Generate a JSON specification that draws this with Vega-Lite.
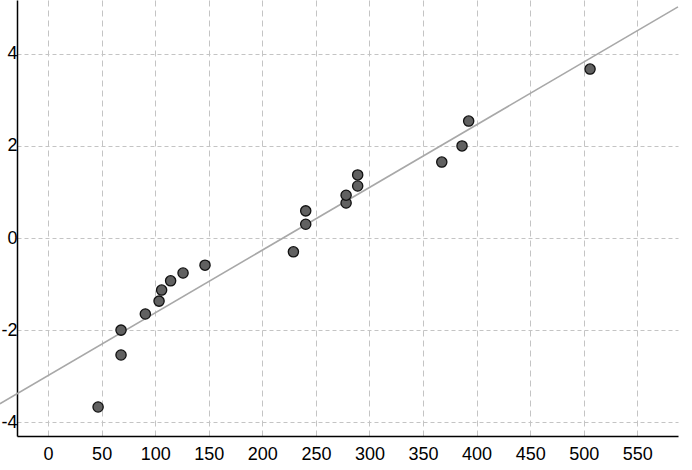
{
  "$schema": "https://vega.github.io/schema/vega-lite/v6.json",
  "width": 661,
  "height": 436,
  "autosize": "none",
  "padding": {"left": 17, "top": 0, "right": 14, "bottom": 34},
  "config": {
    "background": "white",
    "view": {"stroke": null},
    "axis": {
      "labelFont": "Liberation Sans",
      "labelFontSize": 18,
      "labelColor": "black",
      "domainColor": "black",
      "domainWidth": 1.5,
      "ticks": false,
      "gridColor": "#c4c4c4",
      "gridWidth": 1,
      "title": null
    }
  },
  "datasets": {
    "points": [
      {"x": 46.7, "y": -3.67},
      {"x": 68.1, "y": -2.54},
      {"x": 68.1, "y": -2.0},
      {"x": 90.8, "y": -1.65},
      {"x": 103.6, "y": -1.37},
      {"x": 106.0, "y": -1.13},
      {"x": 114.4, "y": -0.93},
      {"x": 126.0, "y": -0.76},
      {"x": 146.5, "y": -0.59},
      {"x": 229.0, "y": -0.30},
      {"x": 240.5, "y": 0.30},
      {"x": 240.5, "y": 0.59},
      {"x": 278.2, "y": 0.76},
      {"x": 278.2, "y": 0.93},
      {"x": 289.0, "y": 1.13},
      {"x": 289.0, "y": 1.37},
      {"x": 367.5, "y": 1.65},
      {"x": 386.4, "y": 2.0},
      {"x": 392.6, "y": 2.54},
      {"x": 505.9, "y": 3.67}
    ],
    "fit": [
      {"x": -45, "y": -3.60},
      {"x": 588, "y": 5.02}
    ]
  },
  "layer": [
    {
      "data": {"name": "fit"},
      "mark": {"type": "line", "color": "#a8a8a8", "strokeWidth": 1.6, "clip": false},
      "encoding": {
        "x": {
          "field": "x", "type": "quantitative",
          "scale": {"domain": [-29, 588], "nice": false, "zero": false},
          "axis": {
            "values": [0, 50, 100, 150, 200, 250, 300, 350, 400, 450, 500, 550],
            "labelPadding": 9,
            "gridDash": [6, 4],
            "labelExpr": "toString(datum.value)"
          }
        },
        "y": {
          "field": "y", "type": "quantitative",
          "scale": {"domain": [-4.3, 5.17], "nice": false, "zero": false},
          "axis": {
            "values": [-4, -2, 0, 2, 4],
            "labelPadding": 0,
            "gridDash": [4, 3],
            "labelExpr": "toString(datum.value)"
          }
        }
      }
    },
    {
      "data": {"name": "points"},
      "mark": {"type": "point", "shape": "circle", "filled": true, "size": 105, "fill": "#616161", "stroke": "#111111", "strokeWidth": 1.3, "opacity": 1},
      "encoding": {
        "x": {"field": "x", "type": "quantitative"},
        "y": {"field": "y", "type": "quantitative"}
      }
    }
  ]
}
